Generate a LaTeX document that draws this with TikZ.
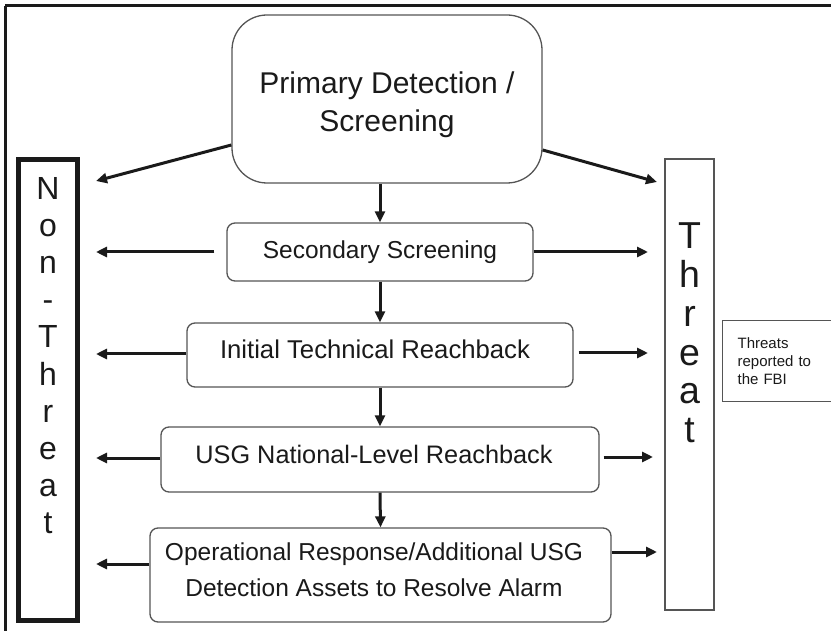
\documentclass[tikz,border=0pt]{standalone}
\usepackage{fontspec}
\setmainfont{Liberation Sans}
\usetikzlibrary{arrows.meta}
\definecolor{ink}{HTML}{1A1A1A}
\definecolor{edge}{HTML}{555555}
\begin{document}
\begin{tikzpicture}[x=1pt,y=-1pt,
  stagebox/.style={draw=edge, line width=1.3pt, rounded corners=8pt, fill=white, inner sep=0pt},
  stagetext/.style={text=ink, anchor=base, inner sep=0pt, font=\fontsize{24.5}{30}\selectfont},
  flow/.style={draw=ink, line width=3pt, -{Triangle[length=11pt,width=10pt]}},
  outcome/.style={draw, inner sep=0pt, fill=white},
  vletter/.style={text=ink, anchor=base, inner sep=0pt}
]
\useasboundingbox (0,0) rectangle (831,631);

% frame along the top and left edges
\draw[line width=3pt, ink] (5,6) -- (831,6);
\draw[line width=3pt, ink] (5,6) -- (5,640);

% stages of the screening process
\node[stagebox, rounded corners=35pt, minimum width=310pt, minimum height=168pt] (prim) at (387,99) {};
\node[stagebox, minimum width=306pt, minimum height=58pt] (sec) at (380,252) {};
\node[stagebox, minimum width=386pt, minimum height=64pt] (itr) at (380,355) {};
\node[stagebox, minimum width=438pt, minimum height=65pt] (usg) at (380,459.5) {};
\node[stagebox, minimum width=461pt, minimum height=94pt] (ops) at (380.5,575) {};

\node[stagetext, font=\fontsize{30}{38}\selectfont] (prim-a) at (387,94) {Primary Detection /};
\node[stagetext, font=\fontsize{30}{38}\selectfont] (prim-b) at (387,132) {Screening};
\node[stagetext] (sec-t) at (380,259) {Secondary Screening};
\node[stagetext, font=\fontsize{25.7}{30}\selectfont] (itr-t) at (375,359) {Initial Technical Reachback};
\node[stagetext, font=\fontsize{25.3}{30}\selectfont] (usg-t) at (374,464) {USG National-Level Reachback};
\node[stagetext] (ops-a) at (374,560) {Operational Response/Additional USG};
\node[stagetext] (ops-b) at (374,596) {Detection Assets to Resolve Alarm};

% outcome columns
\node[outcome, draw=ink, line width=5pt, minimum width=59pt, minimum height=461pt] (nt) at (48,390) {};
\node[outcome, draw=edge, line width=1.3pt, minimum width=49pt, minimum height=451pt] (th) at (689.5,384.5) {};

\foreach \ch [count=\i from 0] in {N,o,n,-,T,h,r,e,a,t}
  \node[vletter, font=\fontsize{32}{32}\selectfont] (ntl\i) at (48,200+37*\i) {\ch};
\foreach \ch [count=\i from 0] in {T,h,r,e,a,t}
  \node[vletter, font=\fontsize{37.5}{37.5}\selectfont] (thl\i) at (689.5,249+38.7*\i) {\ch};

% note on reporting
\node[outcome, draw=edge, line width=1.3pt, anchor=north west, minimum width=125pt,
      minimum height=81pt, text width=95pt, inner xsep=15pt, align=left, text=ink,
      font=\fontsize{15}{18}\selectfont] (fbi) at (722,320)
  {Threats\\reported to\\the FBI};

% arrow tips
\coordinate (p-l) at (96,181);
\coordinate (p-r) at (657,182);

% downward flow
\draw[flow] (prim.south -| sec.north) -- (sec.north);
\draw[flow] (sec.south) -- (itr.north);
\draw[flow] (itr.south) -- (usg.north);
\draw[flow] (usg.south) -- (ops.north);

% branches from the primary stage
\draw[flow] (prim.west |- 0,145) -- (p-l);
\draw[flow] (prim.east |- 0,150) -- (p-r);

% branches to non-threat
\draw[flow] ([xshift=-12pt]sec.west) -- (96,252);
\draw[flow] (itr.west |- 0,354) -- (96,354);
\draw[flow] (usg.west |- 0,458) -- (96,458);
\draw[flow] (ops.west |- 0,564) -- (96,564);

% branches to threat
\draw[flow] (sec.east) -- (648,252);
\draw[flow] ([xshift=5pt]itr.east |- 0,353) -- (648,353);
\draw[flow] ([xshift=4pt]usg.east |- 0,457) -- (653,457);
\draw[flow] (ops.east |- 0,552) -- (657,552);
\end{tikzpicture}
\end{document}
